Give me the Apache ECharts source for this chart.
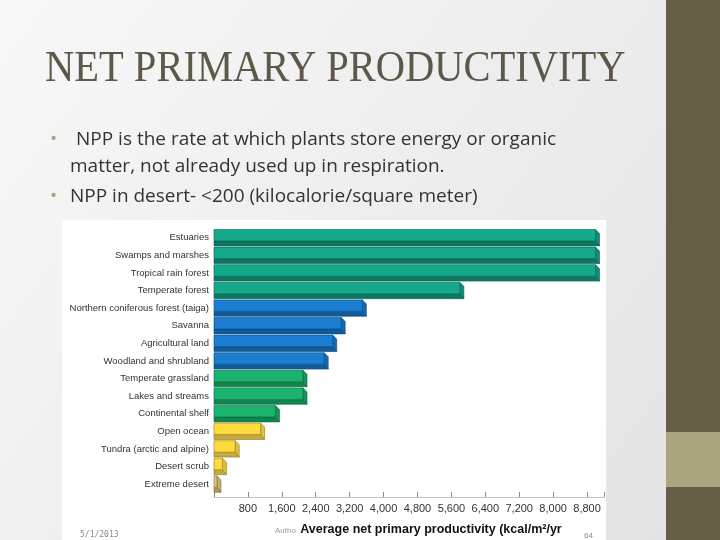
<!DOCTYPE html>
<html>
<head>
<meta charset="utf-8">
<script src="https://cdn.jsdelivr.net/npm/echarts@6/dist/echarts.min.js"></script>
<style>
  html, body { margin: 0; padding: 0; }
  #container { width: 720px; height: 540px; }
</style>
</head>
<body>
<div id="container"></div>
<script>
// life zones, top to bottom
const categories = [
  "Estuaries",
  "Swamps and marshes",
  "Tropical rain forest",
  "Temperate forest",
  "Northern coniferous forest (taiga)",
  "Savanna",
  "Agricultural land",
  "Woodland and shrubland",
  "Temperate grassland",
  "Lakes and streams",
  "Continental shelf",
  "Open ocean",
  "Tundra (arctic and alpine)",
  "Desert scrub",
  "Extreme desert"
];
// kcal/m2/yr
const npp = [9000, 9000, 9000, 5800, 3500, 3000, 2800, 2600, 2100, 2100, 1450, 1100, 500, 200, 70];
const zoneGroup = ["teal", "teal", "teal", "teal", "blue", "blue", "blue", "blue",
  "green", "green", "green", "yellow", "yellow", "yellow", "tan"];

const palette = {
  teal:   { face: "#14a98b", side: "#0e8f75", dark: "#0b7862", line: "#0a5e4d" },
  blue:   { face: "#1a7fd2", side: "#1469b0", dark: "#0f5c9c", line: "#0b4577" },
  green:  { face: "#1bb46f", side: "#15975c", dark: "#0f8550", line: "#0b663d" },
  yellow: { face: "#ffdb3d", side: "#e2bf3a", dark: "#c9a93c", line: "#8f7a2c" },
  tan:    { face: "#ddc77c", side: "#c6ae62", dark: "#ad9856", line: "#7d6c3a" }
};

function renderBar(params, api) {
  const i = api.value(1);
  const v = api.value(0);
  const c = palette[zoneGroup[params.dataIndex]];
  const p0 = api.coord([0, i]);
  const p1 = api.coord([v, i]);
  const band = api.size([0, 1])[1];
  const top = p0[1] - band / 2 + 0.5;
  const h = band - 1.2;
  const faceH = h * 0.7;
  const d = 4;
  const x0 = p0[0], x1 = p1[0];
  const stroke = { stroke: c.line, lineWidth: 0.6 };
  return {
    type: "group",
    children: [
      {
        type: "polygon",
        shape: { points: [[x0, top + faceH], [x1, top + faceH], [x1 + d, top + h], [x0, top + h]] },
        style: Object.assign({ fill: c.dark }, stroke)
      },
      {
        type: "polygon",
        shape: { points: [[x1, top], [x1 + d, top + d], [x1 + d, top + h], [x1, top + faceH]] },
        style: Object.assign({ fill: c.side }, stroke)
      },
      {
        type: "rect",
        shape: { x: x0, y: top, width: Math.max(x1 - x0, 0.5), height: faceH },
        style: Object.assign({ fill: c.face }, stroke)
      }
    ]
  };
}

const chart = echarts.init(document.getElementById("container"));

const option = {
  backgroundColor: {
    type: "linear", x: 0, y: 0, x2: 1, y2: 1,
    colorStops: [
      { offset: 0, color: "#f8f8f8" },
      { offset: 1, color: "#e3e3e3" }
    ]
  },
  animation: false,
  graphic: [
    // white picture area
    { type: "rect", z: -10, shape: { x: 62, y: 220, width: 544, height: 320 }, style: { fill: "#ffffff" } },
    // right side panel
    { type: "rect", shape: { x: 666, y: 0, width: 54, height: 540 }, style: { fill: "#665e47" } },
    { type: "rect", shape: { x: 666, y: 432, width: 54, height: 55 }, style: { fill: "#a9a57f" } },
    {
      type: "text", x: 45, y: 47, scaleX: 0.9,
      style: { text: "NET PRIMARY PRODUCTIVITY", font: "45px 'Liberation Serif'", fill: "#5e5848" }
    },
    { type: "text", x: 50, y: 130, style: { text: "•", font: "19px 'Open Sans'", fill: "#a9a57f" } },
    {
      type: "text", x: 76, y: 130,
      style: { text: "NPP is the rate at which plants store energy or organic", font: "19px 'Open Sans'", fill: "#333333" }
    },
    {
      type: "text", x: 70, y: 157,
      style: { text: "matter, not already used up in respiration.", font: "19px 'Open Sans'", fill: "#333333" }
    },
    { type: "text", x: 50, y: 187, style: { text: "•", font: "19px 'Open Sans'", fill: "#a9a57f" } },
    {
      type: "text", x: 70, y: 187,
      style: { text: "NPP in desert- <200 (kilocalorie/square meter)", font: "19px 'Open Sans'", fill: "#333333" }
    },
    { type: "text", x: 80, y: 531, style: { text: "5/1/2013", font: "8px 'DejaVu Sans Mono'", fill: "#8a8a8a" } },
    { type: "text", x: 275, y: 527, style: { text: "Autho", font: "8px 'Liberation Sans'", fill: "#999999" } },
    { type: "text", x: 584, y: 532, style: { text: "64", font: "8px 'Liberation Sans'", fill: "#8a8a8a" } }
  ],
  grid: { left: 214, top: 229, width: 390, height: 264 },
  xAxis: {
    type: "value",
    min: 0,
    max: 9200,
    interval: 800,
    offset: 4,
    name: "Average net primary productivity (kcal/m²/yr",
    nameLocation: "middle",
    nameGap: 26,
    nameTextStyle: {
      fontFamily: "Liberation Sans", fontWeight: "bold", fontSize: 12.5, color: "#111111",
      padding: [0, 0, 0, 44]
    },
    axisLine: { show: true, lineStyle: { color: "#c4c4c4", width: 1 } },
    axisTick: { show: true, inside: true, length: 5, lineStyle: { color: "#8c8c8c" } },
    splitLine: { show: false },
    axisLabel: {
      margin: 6,
      fontFamily: "Liberation Sans",
      fontSize: 11,
      color: "#333333",
      formatter: function (v) {
        return v === 0 || v > 8800 ? "" : v.toLocaleString("en-US");
      }
    }
  },
  yAxis: {
    type: "category",
    data: categories,
    inverse: true,
    axisLine: { show: false },
    axisTick: { show: false },
    axisLabel: { margin: 5, fontFamily: "Liberation Sans", fontSize: 9.5, color: "#333333" }
  },
  series: [
    {
      type: "custom",
      renderItem: renderBar,
      encode: { x: 0, y: 1 },
      data: npp.map(function (v, i) { return [v, i]; })
    }
  ]
};

chart.setOption(option);
</script>
</body>
</html>
